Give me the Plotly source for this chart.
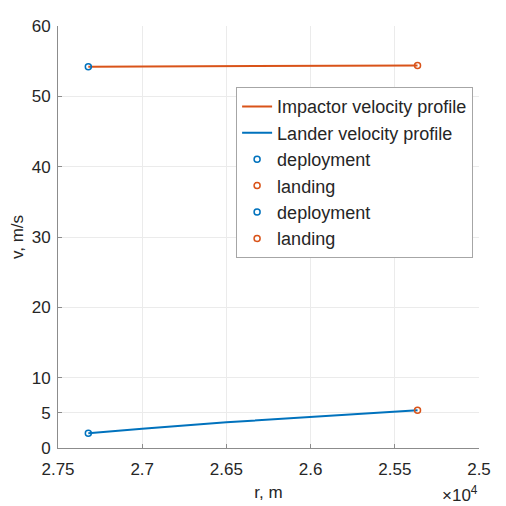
import plotly.graph_objects as go

# Data
imp_r = [27320, 25365]
imp_v = [54.2, 54.4]
lan_r = [27320, 27000, 26500, 26000, 25500, 25365]
lan_v = [2.1, 2.75, 3.65, 4.4, 5.15, 5.35]
xticks = [27500, 27000, 26500, 26000, 25500, 25000]
xticklabels = ["2.75", "2.7", "2.65", "2.6", "2.55", "2.5"]
yticks = [0, 5, 10, 20, 30, 40, 50, 60]

BLUE = "#0072BD"
ORANGE = "#D95319"
FONT = "Liberation Sans, Arial, sans-serif"
TXT = "#262626"
FS = 17

fig = go.Figure()
fig.add_trace(go.Scatter(x=imp_r, y=imp_v, mode="lines", line=dict(color=ORANGE, width=2),
                         name="Impactor velocity profile"))
fig.add_trace(go.Scatter(x=lan_r, y=lan_v, mode="lines", line=dict(color=BLUE, width=2),
                         name="Lander velocity profile"))
mk = dict(symbol="circle-open", size=6, line=dict(width=1.5))
fig.add_trace(go.Scatter(x=[imp_r[0]], y=[imp_v[0]], mode="markers",
                         marker=dict(color=BLUE, **mk), name="deployment"))
fig.add_trace(go.Scatter(x=[imp_r[-1]], y=[imp_v[-1]], mode="markers",
                         marker=dict(color=ORANGE, **mk), name="landing"))
fig.add_trace(go.Scatter(x=[lan_r[0]], y=[lan_v[0]], mode="markers",
                         marker=dict(color=BLUE, **mk), name="deployment"))
fig.add_trace(go.Scatter(x=[lan_r[-1]], y=[lan_v[-1]], mode="markers",
                         marker=dict(color=ORANGE, **mk), name="landing"))

axis_common = dict(showline=True, linecolor="#8C8C8C", linewidth=1, showgrid=True,
                   gridcolor="#EBEBEB", ticks="inside", ticklen=4, tickcolor="#8C8C8C",
                   zeroline=False, tickfont=dict(size=FS, color=TXT, family=FONT),
                   mirror=False, automargin=False)
fig.update_xaxes(range=[27500, 25000], tickvals=xticks, ticktext=xticklabels,
                 ticklabelstandoff=6,
                 title=dict(text="r, m", font=dict(size=FS, color=TXT, family=FONT), standoff=7),
                 **axis_common)
fig.update_yaxes(range=[0, 60], tickvals=yticks, ticklabelstandoff=3,
                 title=dict(text="v, m/s", font=dict(size=FS, color=TXT, family=FONT), standoff=4),
                 **axis_common)

fig.add_annotation(text="×10<sup>4</sup>", xref="paper", yref="paper", x=1.003, y=-0.108,
                   xanchor="right", yanchor="middle", showarrow=False,
                   font=dict(size=FS, color=TXT, family=FONT))

fig.update_layout(
    width=498, height=498,
    margin=dict(l=50, r=27, t=18, b=58),
    plot_bgcolor="white", paper_bgcolor="white",
    font=dict(family=FONT, color=TXT),
    legend=dict(x=0.986, y=0.855, xanchor="right", yanchor="top",
                bgcolor="white", bordercolor="#A6A6A6", borderwidth=1,
                font=dict(size=18, family=FONT, color=TXT),
                tracegroupgap=0, itemwidth=30),
    showlegend=True,
)

fig.write_html("out.html")
